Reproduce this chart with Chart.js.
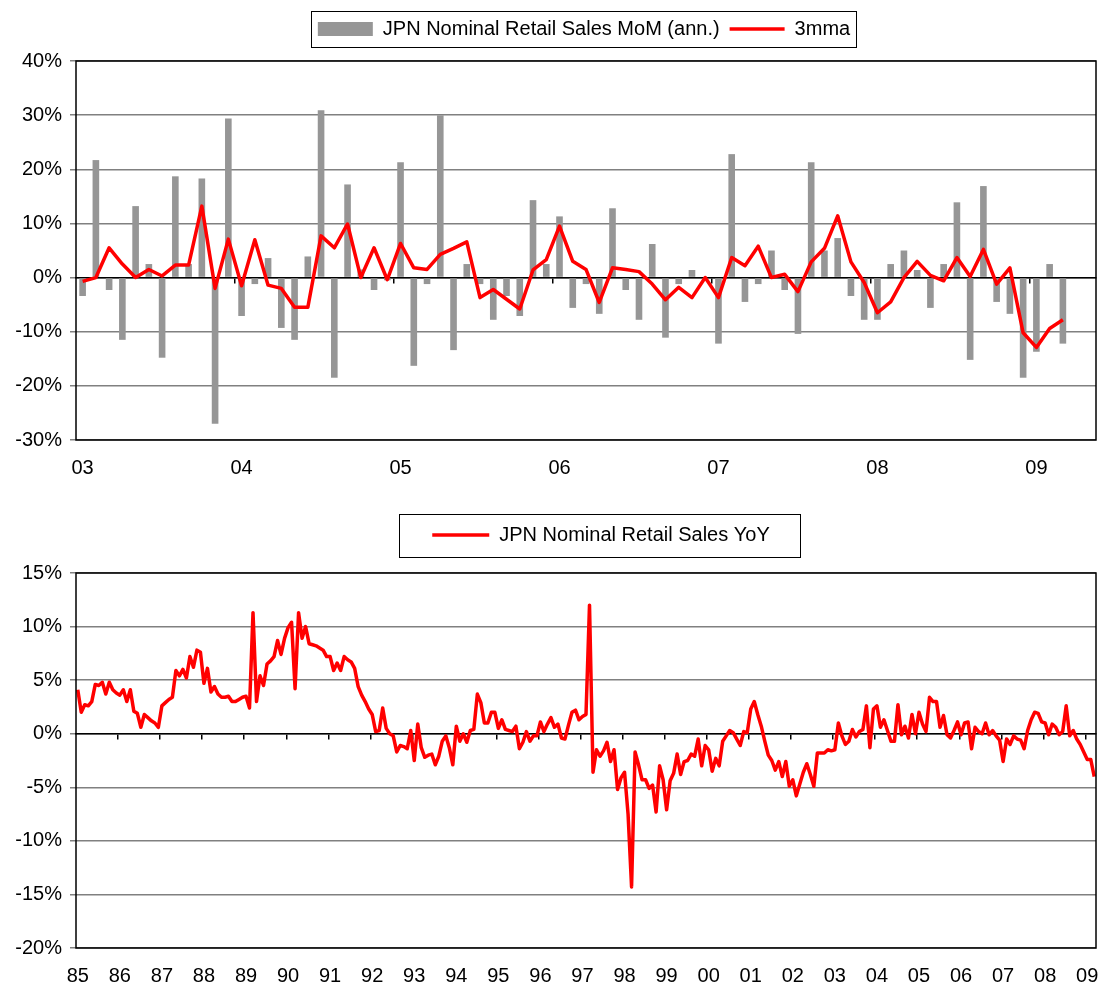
<!DOCTYPE html>
<html><head><meta charset="utf-8">
<script src="https://cdn.jsdelivr.net/npm/chart.js@4.4.1/dist/chart.umd.min.js"></script>
<style>
html,body{margin:0;padding:0;background:#fff;}
#w1{position:absolute;left:0;top:0;width:1099px;height:495px;}
#w2{position:absolute;left:0;top:495px;width:1099px;height:496px;}
</style></head><body>
<div id="w1"><canvas id="c1"></canvas></div>
<div id="w2"><canvas id="c2"></canvas></div>
<script>
// ---------- DATA ----------
const topYears = ['03','04','05','06','07','08','09'];
const topMonthsLastYear = 5;           // axis runs Jan 03 .. May 09
const momAnnLabel = 'JPN Nominal Retail Sales MoM (ann.)';
const mmaLabel = '3mma';
const momAnn = [
 -3.4, 21.7, -2.3, -11.5, 13.2, 2.5, -14.8, 18.7, 2.5, 18.3, -27.0, 29.4,
 -7.1, -1.2, 3.6, -9.3, -11.5, 3.9, 30.9, -18.5, 17.2, 1.5, -2.3, -0.5,
 21.3, -16.3, -1.2, 30.0, -13.4, 2.5, -1.2, -7.8, -3.4, -7.1, 14.3, 2.5,
 11.3, -5.6, -1.2, -6.7, 12.8, -2.3, -7.8, 6.2, -11.1, -1.2, 1.4, -0.2,
 -12.2, 22.8, -4.5, -1.2, 5.0, -2.3, -10.4, 21.3, 5.0, 7.3, -3.4, -7.8,
 -7.8, 2.5, 5.0, 1.4, -5.6, 2.5, 13.9, -15.2, 16.9, -4.5, -6.7, -18.5,
 -13.7, 2.5, -12.2
];
const mma3 = [
 -0.7, 0.0, 5.5, 2.5, 0.0, 1.5, 0.3, 2.3, 2.3, 13.2, -2.0, 7.1,
 -1.5, 7.0, -1.4, -2.0, -5.5, -5.5, 7.7, 5.5, 9.9, 0.0, 5.5, -0.4,
 6.3, 1.8, 1.5, 4.3, 5.4, 6.6, -3.7, -2.2, -4.0, -5.8, 1.4, 3.3,
 9.5, 3.0, 1.5, -4.6, 1.8, 1.5, 1.1, -1.2, -4.1, -1.8, -3.7, 0.0,
 -3.7, 3.7, 2.2, 5.8, 0.0, 0.6, -2.6, 2.9, 5.4, 11.4, 2.9, -0.9,
 -6.5, -4.5, 0.0, 3.0, 0.4, -0.6, 3.7, 0.2, 5.2, -1.2, 1.8, -10.2,
 -12.9, -9.4, -7.8
];
const topYTicks = {min: -30, max: 40, step: 10};

const bottomYears = ['85','86','87','88','89','90','91','92','93','94','95','96','97','98','99','00','01','02','03','04','05','06','07','08','09'];
const bottomMonthsLastYear = 3;        // Jan 85 .. Mar 09
const yoyLabel = 'JPN Nominal Retail Sales YoY';
const yoy = [
 4.1, 2.0, 2.7, 2.6, 3.0, 4.6, 4.5, 4.8, 3.7, 4.8, 4.1, 3.8,
 3.6, 4.1, 3.0, 4.1, 2.1, 1.9, 0.6, 1.8, 1.5, 1.2, 1.0, 0.6,
 2.6, 2.9, 3.2, 3.4, 5.9, 5.4, 6.0, 5.2, 7.2, 6.2, 7.8, 7.6,
 4.7, 6.1, 3.9, 4.4, 3.7, 3.4, 3.4, 3.5, 3.0, 3.0, 3.2, 3.4,
 3.5, 2.4, 11.3, 3.0, 5.4, 4.5, 6.5, 6.8, 7.2, 8.7, 7.4, 8.9,
 9.9, 10.4, 4.2, 11.3, 8.9, 10.0, 8.4, 8.3, 8.2, 8.0, 7.8, 7.2,
 7.2, 5.9, 6.6, 5.9, 7.2, 6.9, 6.7, 6.1, 4.4, 3.6, 3.0, 2.3,
 1.8, 0.2, 0.3, 2.4, 0.5, 0.0, -0.2, -1.7, -1.1, -1.2, -1.4, 0.3,
 -2.5, 0.9, -1.3, -2.2, -2.0, -1.9, -2.9, -2.1, -0.7, -0.2, -1.3, -2.9,
 0.7, -0.7, 0.0, -0.8, 0.3, 0.4, 3.7, 2.9, 1.0, 1.0, 2.0, 2.0,
 0.5, 1.3, 0.4, 0.3, 0.2, 0.7, -1.4, -0.8, 0.2, -0.7, -0.2, -0.2,
 1.1, 0.2, 0.9, 1.5, 0.6, 0.9, -0.4, -0.5, 0.8, 2.0, 2.2, 1.3,
 1.6, 1.8, 12.0, -3.6, -1.5, -2.1, -1.6, -0.8, -2.6, -1.5, -5.2, -4.1,
 -3.6, -7.5, -14.3, -1.7, -2.9, -4.3, -4.3, -5.1, -4.8, -7.3, -3.0, -4.3,
 -7.1, -4.4, -3.7, -1.9, -3.8, -2.6, -2.5, -1.9, -2.1, -0.5, -3.0, -1.1,
 -1.5, -3.5, -2.3, -3.0, -0.7, -0.2, 0.3, 0.1, -0.5, -1.1, 0.2, 0.1,
 2.3, 3.0, 1.8, 0.7, -0.7, -2.0, -2.5, -3.4, -2.6, -4.0, -2.6, -4.9,
 -4.3, -5.8, -4.7, -3.6, -2.8, -3.8, -4.9, -1.8, -1.8, -1.8, -1.5, -1.6,
 -1.5, 1.0, -0.2, -1.0, -0.7, 0.4, -0.3, 0.2, 0.4, 2.6, -1.3, 2.3,
 2.6, 0.6, 1.3, 0.3, -0.7, -0.7, 2.7, -0.1, 0.7, -0.4, 1.8, 0.0,
 2.0, 0.9, 0.2, 3.4, 3.0, 3.0, 0.6, 1.7, -0.1, -0.4, 0.3, 1.1,
 -0.1, 1.0, 1.1, -1.4, 0.6, 0.2, 0.0, 1.0, -0.1, 0.3, -0.2, -0.6,
 -2.6, -0.5, -1.0, -0.2, -0.5, -0.6, -1.4, 0.3, 1.3, 2.0, 1.9, 1.1,
 1.0, -0.1, 0.9, 0.6, -0.1, 0.2, 2.6, -0.2, 0.3, -0.5, -1.0, -1.7,
 -2.4, -2.4, -4.0
];
const bottomYTicks = {min: -20, max: 15, step: 5};

// ---------- HELPERS ----------
function monthCats(years, lastMonths) {
  const out = [];
  years.forEach((y, k) => {
    const n = (k === years.length - 1) ? lastMonths : 12;
    for (let m = 1; m <= n; m++) out.push(y + '-' + (m < 10 ? '0' + m : m));
  });
  return out;
}
const topCats = monthCats(topYears, topMonthsLastYear);
const bottomCats = monthCats(bottomYears, bottomMonthsLastYear);

const FONT = {family: "'Liberation Sans', Arial, sans-serif", size: 20};
Chart.defaults.font.family = FONT.family;
Chart.defaults.color = '#000';

const legendFrame = {
  id: 'legendFrame',
  afterLayout(chart, args, o) {
    const lg = chart.legend;
    if (lg && o.shiftX) { lg.left += o.shiftX; lg.right += o.shiftX; }
  },
  afterDraw(chart, args, o) {
    const lg = chart.legend;
    if (!lg || !lg.legendHitBoxes || !lg.legendHitBoxes.length) return;
    let l = Infinity, r = -Infinity, cy = 0;
    lg.legendHitBoxes.forEach(h => { l = Math.min(l, h.left); r = Math.max(r, h.left + h.width); cy = h.top + h.height / 2; });
    const ctx = chart.ctx;
    ctx.save();
    ctx.strokeStyle = '#000'; ctx.lineWidth = 1;
    ctx.strokeRect(Math.round(l - o.padL) + 0.5, Math.round(cy - o.h / 2) + 0.5, Math.round(r - l + o.padL + o.padR), Math.round(o.h));
    ctx.restore();
  }
};
const plotFrame = {
  id: 'plotFrame',
  afterDatasetsDraw(chart) {
    const a = chart.chartArea, ctx = chart.ctx;
    ctx.save(); ctx.strokeStyle = '#000'; ctx.lineWidth = 1.5;
    ctx.strokeRect(a.left, a.top, a.right - a.left, a.bottom - a.top);
    ctx.restore();
  }
};

function xScales(years, padTop) {
  return {
    x: {
      type: 'category', offset: true, position: 'bottom',
      grid: {display: false, drawTicks: true, tickLength: 16},
      border: {display: false},
      ticks: {autoSkip: false, maxRotation: 0, minRotation: 0, padding: 0, font: FONT, color: '#000',
        callback: (v, i) => (i % 12 === 0 ? years[i / 12] : '')}
    },
    xTick: {
      type: 'category', axis: 'x', offset: true, position: {y: 0},
      grid: {offset: true, drawOnChartArea: false, drawTicks: true, tickLength: 5, lineWidth: 1.5,
        color: (c) => (c.index % 12 === 0 && c.index > 0 ? '#000' : 'rgba(0,0,0,0)')},
      border: {display: true, color: '#000', width: 1.5},
      ticks: {display: false}
    },
    xPad: {
      type: 'category', axis: 'x', position: 'top',
      grid: {display: false, drawTicks: false, tickLength: 0},
      border: {display: false},
      ticks: {display: false},
      afterFit: (s) => { s.height = padTop; }
    }
  };
}
function yScale(t) {
  return {
    min: t.min, max: t.max,
    grid: {color: '#808080', lineWidth: 1.5, drawTicks: true, tickLength: 6},
    border: {display: false},
    ticks: {stepSize: t.step, padding: 8, font: FONT, color: '#000', callback: (v) => v + '%'},
    afterFit: (s) => { s.width = 76; }
  };
}

// ---------- TOP CHART ----------
new Chart(document.getElementById('c1'), {
  type: 'bar',
  data: {
    labels: topCats,
    datasets: [
      {type: 'bar', label: momAnnLabel, data: momAnn, backgroundColor: '#969696', borderWidth: 0,
        barPercentage: 0.5, categoryPercentage: 1.0, order: 1, pointStyle: 'rect'},
      {type: 'line', label: mmaLabel, data: mma3, borderColor: '#FF0000', backgroundColor: '#FF0000',
        borderWidth: 3.5, pointRadius: 0, tension: 0, order: 0, pointStyle: 'line', borderJoinStyle: 'round'}
    ]
  },
  options: {
    responsive: true, maintainAspectRatio: false, animation: false,
    layout: {padding: {top: 9, left: 0, right: 3, bottom: 15}},
    plugins: {
      tooltip: {enabled: false},
      legend: {
        position: 'top', fullSize: false,
        labels: {usePointStyle: true, pointStyleWidth: 55, boxHeight: 14, padding: 10, font: FONT, color: '#000',
          sort: (a, b) => a.datasetIndex - b.datasetIndex}
      },
      legendFrame: {padL: 7, padR: 6, h: 36, shiftX: -2}
    },
    scales: Object.assign(xScales(topYears, 12), {y: yScale(topYTicks)})
  },
  plugins: [legendFrame, plotFrame]
});

// ---------- BOTTOM CHART ----------
new Chart(document.getElementById('c2'), {
  type: 'line',
  data: {
    labels: bottomCats,
    datasets: [
      {label: yoyLabel, data: yoy, borderColor: '#FF0000', backgroundColor: '#FF0000', borderWidth: 3.5,
        pointRadius: 0, tension: 0, pointStyle: 'line', borderJoinStyle: 'round'}
    ]
  },
  options: {
    responsive: true, maintainAspectRatio: false, animation: false,
    layout: {padding: {top: 20, left: 0, right: 3, bottom: 3}},
    plugins: {
      tooltip: {enabled: false},
      legend: {
        position: 'top', fullSize: false,
        labels: {usePointStyle: true, pointStyleWidth: 57, boxHeight: 14, padding: 10, font: FONT, color: '#000'}
      },
      legendFrame: {padL: 33, padR: 31, h: 43, shiftX: 15}
    },
    scales: Object.assign(xScales(bottomYears, 18), {y: yScale(bottomYTicks)})
  },
  plugins: [legendFrame, plotFrame]
});
</script>
</body></html>
